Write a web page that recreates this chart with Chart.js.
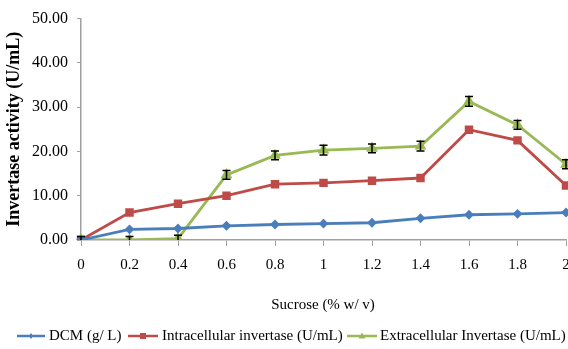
<!DOCTYPE html>
<html>
<head>
<meta charset="utf-8">
<script src="https://cdn.jsdelivr.net/npm/chart.js@4"></script>
<style>
  html, body { margin: 0; padding: 0; background: #fff; }
  #wrap { width: 568px; height: 349px; }
</style>
</head>
<body>
<div id="wrap"><canvas id="c" width="568" height="349"></canvas></div>
<script>
// Sucrose concentration (% w/v)
const sucrose = ['0', '0.2', '0.4', '0.6', '0.8', '1', '1.2', '1.4', '1.6', '1.8', '2'];
// Dry cell mass (g/L)
const dcm = [0, 2.4, 2.6, 3.2, 3.5, 3.7, 3.9, 4.9, 5.7, 5.9, 6.2];
// Intracellular invertase (U/mL)
const intracellular = [0, 6.2, 8.2, 10.0, 12.6, 12.9, 13.4, 14.0, 24.9, 22.5, 12.3];
// Extracellular invertase (U/mL) and its standard error
const extracellular = [0, 0, 0.3, 14.7, 19.1, 20.3, 20.7, 21.2, 31.3, 26.0, 17.1];
const extracellularErr = [0.8, 0.8, 0.8, 1.0, 1.0, 1.1, 1.0, 1.1, 1.1, 1.0, 1.0];
const yTicks = [0, 10, 20, 30, 40, 50];

const FONT = '"Liberation Serif", "Times New Roman", serif';

// Let the x axis run to the right edge; the last tick label may overhang
const plotToEdge = {
  id: 'plotToEdge',
  afterLayout(chart) {
    const x = chart.scales.x;
    const right = chart.width - 2;
    x.right = right;
    x.width = right - x.left;
    chart.chartArea.right = right;
    chart.chartArea.width = right - chart.chartArea.left;
    x.configure();
  }
};

// Vertical error bars with caps for datasets that carry an `errors` array
const errorBars = {
  id: 'errorBars',
  afterDatasetsDraw(chart) {
    const ctx = chart.ctx;
    const y = chart.scales.y;
    chart.data.datasets.forEach((ds, i) => {
      if (!ds.errors) return;
      const meta = chart.getDatasetMeta(i);
      ctx.save();
      ctx.strokeStyle = '#000';
      ctx.lineWidth = 1.5;
      meta.data.forEach((pt, j) => {
        const v = ds.data[j], e = ds.errors[j];
        const top = y.getPixelForValue(v + e);
        const low = v - e;
        const bot = y.getPixelForValue(Math.max(0, low));
        ctx.beginPath();
        ctx.moveTo(pt.x, top); ctx.lineTo(pt.x, bot);
        ctx.moveTo(pt.x - 4, top); ctx.lineTo(pt.x + 4, top);
        if (low >= 0) { ctx.moveTo(pt.x - 4, bot); ctx.lineTo(pt.x + 4, bot); }
        ctx.stroke();
      });
      ctx.restore();
    });
  }
};

// X axis title and a line-with-marker legend beneath the plot
const bottomText = {
  id: 'bottomText',
  afterDraw(chart) {
    const ctx = chart.ctx;
    ctx.save();
    ctx.fillStyle = '#000';
    ctx.font = '15px ' + FONT;
    ctx.textAlign = 'center';
    ctx.textBaseline = 'middle';
    ctx.fillText('Sucrose (% w/ v)', 323, 305);

    const entries = [
      { ds: 0, x: 17, w: 28, tx: 49 },
      { ds: 1, x: 128, w: 30, tx: 162 },
      { ds: 2, x: 347, w: 30, tx: 380 }
    ];
    const ly = 336;
    entries.forEach(en => {
      const ds = chart.data.datasets[en.ds];
      ctx.strokeStyle = ds.borderColor;
      ctx.lineWidth = 2.5;
      ctx.beginPath();
      ctx.moveTo(en.x, ly); ctx.lineTo(en.x + en.w, ly);
      ctx.stroke();
      ctx.fillStyle = ds.borderColor;
      const mx = en.x + en.w / 2;
      ctx.beginPath();
      if (ds.pointStyle === 'rect') {
        ctx.rect(mx - 3, ly - 3, 6, 6);
      } else if (ds.pointStyle === 'triangle') {
        ctx.moveTo(mx, ly - 3.5); ctx.lineTo(mx + 3.5, ly + 2.5); ctx.lineTo(mx - 3.5, ly + 2.5); ctx.closePath();
      } else {
        ctx.moveTo(mx, ly - 3); ctx.lineTo(mx + 2, ly); ctx.lineTo(mx, ly + 3); ctx.lineTo(mx - 2, ly); ctx.closePath();
      }
      ctx.fill();
      ctx.fillStyle = '#000';
      ctx.textAlign = 'left';
      ctx.font = '15px ' + FONT;
      ctx.fillText(ds.label, en.tx, ly);
    });
    ctx.restore();
  }
};

new Chart(document.getElementById('c'), {
  type: 'line',
  data: {
    labels: sucrose,
    datasets: [
      {
        label: 'DCM (g/ L)',
        data: dcm,
        borderColor: '#4a7ebb',
        backgroundColor: '#4a7ebb',
        borderWidth: 2.8,
        pointStyle: 'rectRot',
        pointRadius: 3,
        tension: 0
      },
      {
        label: 'Intracellular invertase (U/mL)',
        data: intracellular,
        borderColor: '#be4b48',
        backgroundColor: '#be4b48',
        borderWidth: 2.8,
        pointStyle: 'rect',
        pointRadius: 4,
        tension: 0
      },
      {
        label: 'Extracellular Invertase (U/mL)',
        data: extracellular,
        errors: extracellularErr,
        borderColor: '#98b954',
        backgroundColor: '#98b954',
        borderWidth: 2.8,
        pointStyle: 'triangle',
        pointRadius: 4,
        tension: 0
      }
    ]
  },
  options: {
    responsive: false,
    animation: false,
    devicePixelRatio: 1,
    layout: { padding: { top: 16, right: 2, left: 0, bottom: 0 } },
    plugins: {
      legend: { display: false },
      tooltip: { enabled: false }
    },
    scales: {
      x: {
        type: 'category',
        offset: false,
        grid: { display: true, drawOnChartArea: false, color: '#a0a0a0', tickLength: 6, lineWidth: 1 },
        border: { color: '#a0a0a0', width: 1.5 },
        ticks: { color: '#000', font: { family: FONT, size: 15 }, padding: 10, maxRotation: 0, autoSkip: false },
        afterFit(s) { s.height = 109; }
      },
      y: {
        min: 0,
        max: 50,
        afterBuildTicks(s) { s.ticks = yTicks.map(v => ({ value: v })); },
        grid: { display: true, drawOnChartArea: false, color: '#a0a0a0', tickLength: 4 },
        border: { color: '#a0a0a0', width: 1.5 },
        ticks: {
          color: '#000',
          font: { family: FONT, size: 16 },
          padding: 9,
          callback: v => Number(v).toFixed(2)
        },
        title: {
          display: true,
          text: 'Invertase activity (U/mL)',
          color: '#000',
          font: { family: FONT, size: 18, weight: 'bold' },
          padding: { top: 4, bottom: 0 }
        },
        afterFit(s) { s.width = 81; }
      }
    }
  },
  plugins: [plotToEdge, errorBars, bottomText]
});
</script>
</body>
</html>
